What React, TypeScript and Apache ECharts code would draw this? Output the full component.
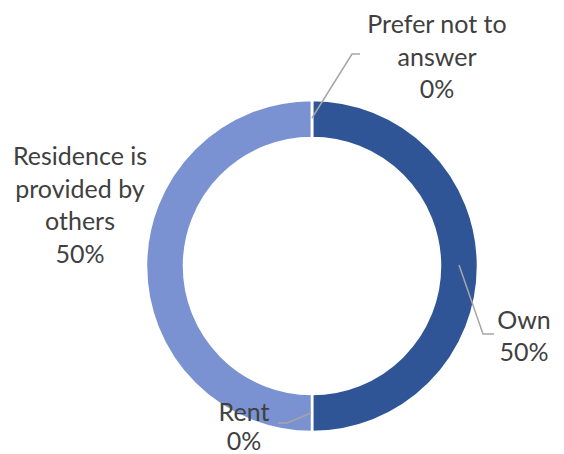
import React, { useEffect, useRef } from "react";
import * as echarts from "echarts";

const categories = ["Own", "Rent", "Residence is provided by others", "Prefer not to answer"];
const labelLines = ["Own", "Rent", "Residence is\nprovided by\nothers", "Prefer not to\nanswer"];
const values = [50, 0, 50, 0];
const colors = ["#2F5597", "#2F5597", "#7A92D2", "#7A92D2"];

// label layout (block centre) and leader lines, in pixels
const labelPos: [number, number][] = [
  [524, 335],
  [244, 425],
  [80, 204],
  [437, 55.5],
];
const labelLineHeights = [32.5, 29, 32.5, 32.5];
const leaderLines: ([number, number][] | null)[] = [
  [[459, 265], [483, 334], [494, 334]],
  [[311, 413], [287, 423], [278, 423]],
  null,
  [[312, 118], [352, 54], [360, 54]],
];

export default function App() {
  const ref = useRef<HTMLDivElement>(null);
  useEffect(() => {
    document.body.style.margin = "0";
    const chart = echarts.init(ref.current!, undefined, { renderer: "svg" });
    chart.setOption({
      animation: false,
      backgroundColor: "#ffffff",
      graphic: leaderLines
        .filter((pts) => pts !== null)
        .map((pts) => ({
          type: "polyline",
          z: 100,
          shape: { points: pts },
          style: { stroke: "#A6A6A6", lineWidth: 1.5, fill: null },
        })),
      series: [
        {
          type: "pie",
          center: [312, 266],
          radius: [128, 166],
          startAngle: 90,
          clockwise: true,
          avoidLabelOverlap: false,
          itemStyle: { borderColor: "#ffffff", borderWidth: 2.5 },
          label: {
            show: true,
            position: "outside",
            color: "#404040",
            fontFamily: "Lato",
            fontSize: 25,
            lineHeight: 32.5,
            align: "center",
            formatter: (p: any) => `${labelLines[p.dataIndex]}\n${Math.round(p.percent)}%`,
          },
          labelLine: { show: false },
          labelLayout: (params: any) => {
            const i = params.dataIndex;
            return {
              x: labelPos[i][0],
              y: labelPos[i][1],
              align: "center",
              verticalAlign: "middle",
            };
          },
          data: categories.map((name, i) => ({
            name,
            value: values[i],
            itemStyle: { color: colors[i] },
            label: { lineHeight: labelLineHeights[i] },
          })),
        },
      ],
    });
    return () => chart.dispose();
  }, []);
  return <div ref={ref} style={{ width: 564, height: 454 }} />;
}
